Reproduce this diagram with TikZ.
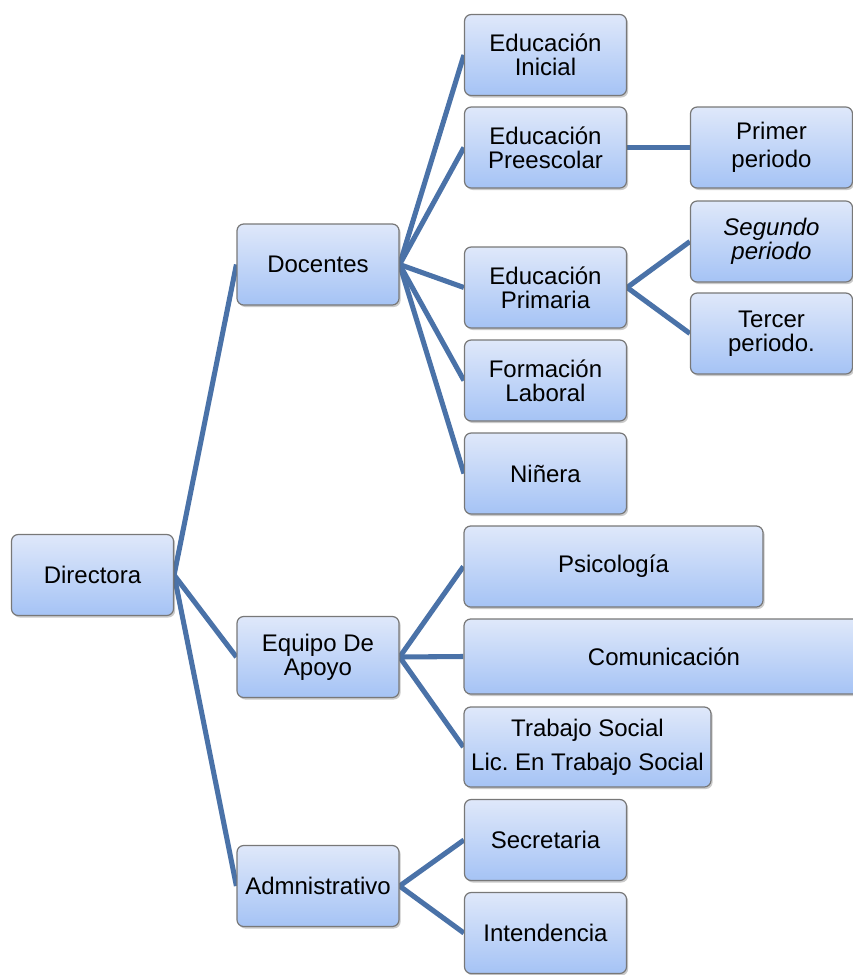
\documentclass[tikz,border=0pt]{standalone}
\usepackage{fontspec}
\setmainfont{Liberation Sans}
\usetikzlibrary{shadows,backgrounds}
\frenchspacing
\definecolor{conn}{RGB}{74,114,168}
\definecolor{boxtop}{RGB}{223,232,250}
\definecolor{boxbot}{RGB}{165,195,245}
\definecolor{boxline}{RGB}{120,120,120}
\tikzset{
  bx/.style={rectangle, rounded corners=5pt, draw=boxline, line width=0.9pt,
    top color=boxtop, bottom color=boxbot, align=center, inner sep=0pt,
    minimum width=121.5pt, minimum height=60.75pt,
    font=\fontsize{18}{18}\selectfont,
    drop shadow={shadow xshift=1.2pt, shadow yshift=-1.5pt, opacity=0.35, fill=black!60}},
  link/.style={draw=conn, line width=3.8pt}
}
\begin{document}
\begin{tikzpicture}[x=0.75pt, y=-0.75pt]
\useasboundingbox (0,0) rectangle (853,975);
\clip (0,0) rectangle (853,975);
\node[bx] (dir) at (92.5,575) {Directora};
\node[bx] (doc) at (318,264.5) {Docentes};
\node[bx] (equ) at (318,657) {Equipo De\\Apoyo};
\node[bx] (adm) at (318,886) {Admnistrativo};
\node[bx] (ini) at (545.5,55) {Educación\\Inicial};
\node[bx] (pre) at (545.5,147.5) {Educación\\Preescolar};
\node[bx] (pri) at (545.5,287.5) {Educación\\Primaria};
\node[bx] (for) at (545.5,380.5) {Formación\\Laboral};
\node[bx] (nin) at (545.5,473.5) {Niñera};
\node[bx] (p1) at (771.5,147.5) {Primer\\[3pt]periodo};
\node[bx] (p2) at (771.5,241.5) {\itshape Segundo\\\itshape periodo};
\node[bx] (p3) at (771.5,333.5) {Tercer\\periodo.};
\node[bx, minimum width=224.25pt] (psi) at (613.5,566.5) {Psicología};
\node[bx, minimum width=300pt, minimum height=56.25pt] (com) at (664,656.5) {Comunicación};
\node[bx, minimum width=185.25pt, minimum height=60pt] (tra) at (587.5,747) {Trabajo Social\\[7.5pt]Lic. En Trabajo Social};
\node[bx] (sec) at (545.5,840) {Secretaria};
\node[bx] (int) at (545.5,933) {Intendencia};
\begin{scope}[on background layer]
\foreach \a/\b in {dir/doc,dir/equ,dir/adm,doc/ini,doc/pre,doc/pri,doc/for,doc/nin,pre/p1,pri/p2,pri/p3,equ/psi,equ/com,equ/tra,adm/sec,adm/int}
  \draw[link] (\a.east) -- (\b.west);
\end{scope}
\end{tikzpicture}
\end{document}
